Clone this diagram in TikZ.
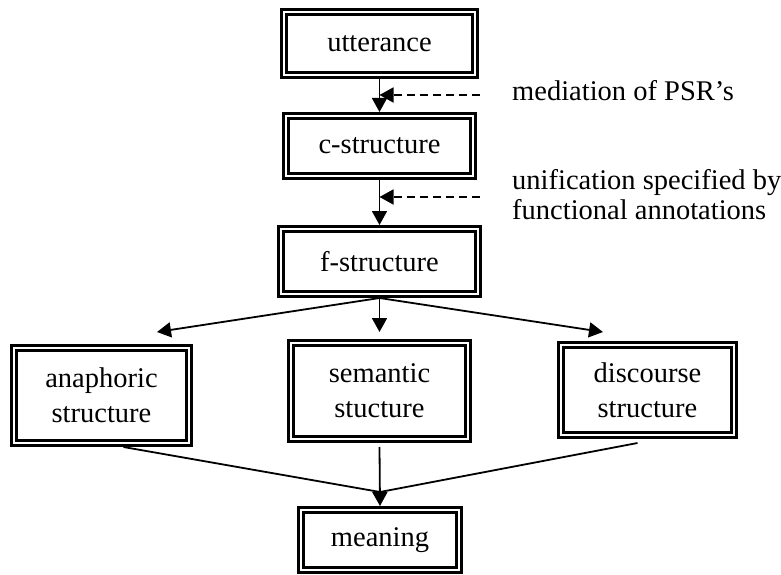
\documentclass[tikz,border=0pt]{standalone}
\usepackage{fontspec}
\setmainfont{Liberation Serif}
\usetikzlibrary{arrows.meta,calc}

\begin{document}
\begin{tikzpicture}[x=1pt,y=-1pt,
  box/.style={draw, double, line width=2.6pt, double distance=2.7pt,
    inner sep=0pt, outer sep=3.95pt, align=center,
    font=\fontsize{28.5}{35}\selectfont},
  lbl/.style={inner sep=0pt, align=left, font=\fontsize{28.5}{30}\selectfont},
  conn/.style={line width=1.8pt},
  arr/.style={conn, -{Triangle[length=14pt,width=15pt]}},
  feedline/.style={arr, dash pattern=on 8pt off 5pt}]
\useasboundingbox (0,0) rectangle (781,575);

% boxes of the processing chain
\node[box, minimum width=191.1pt, minimum height=63.1pt] (utt) at (379.5,43.5) {utterance};
\node[box, minimum width=187.1pt, minimum height=60.1pt] (cs)  at (379.5,146) {c-structure};
\node[box, minimum width=197.1pt, minimum height=65.1pt] (fs)  at (379.5,261.5) {f-structure};
\node[box, minimum width=175.1pt, minimum height=95.1pt] (an)  at (101.5,395.5) {anaphoric\\structure};
\node[box, minimum width=177.1pt, minimum height=96.1pt] (sem) at (379.5,391) {semantic\\stucture};
\node[box, minimum width=173.1pt, minimum height=90.1pt] (dc)  at (647.5,390) {discourse\\structure};
\node[box, minimum width=158.1pt, minimum height=60.1pt] (mean) at (380,540) {meaning};

% side annotations
\node[lbl, anchor=base west] (med) at (512,101) {mediation of PSR’s};
\node[lbl, anchor=north west] (uni) at (512,169) {unification specified by\\functional annotations};

% vertical steps
\draw[arr] (utt.south) -- (cs.north);
\draw[arr] (cs.south) -- (fs.north);

% dashed influences joining the steps
\coordinate (d1) at (480,95);
\coordinate (d2) at (480,197);
\draw[feedline] (d1) -- (d1 -| utt.south);
\draw[feedline] (d2) -- (d2 -| cs.south);

% fan-out from f-structure
\coordinate (fl) at (157,332);
\coordinate (fm) at (379.5,332);
\coordinate (fr) at (603,332);
\draw[arr] (fs.south) -- (fl);
\draw[arr] (fs.south) -- (fm);
\draw[arr] (fs.south) -- (fr);

% convergence on meaning
\coordinate (join) at (380,492);
\draw[conn] ([xshift=22pt]an.south) -- (join);
\draw[conn] ([xshift=-10pt,yshift=-4pt]dc.south) -- (join);
\draw[arr] ([yshift=-4pt]sem.south) -- (mean.north);
\end{tikzpicture}
\end{document}
